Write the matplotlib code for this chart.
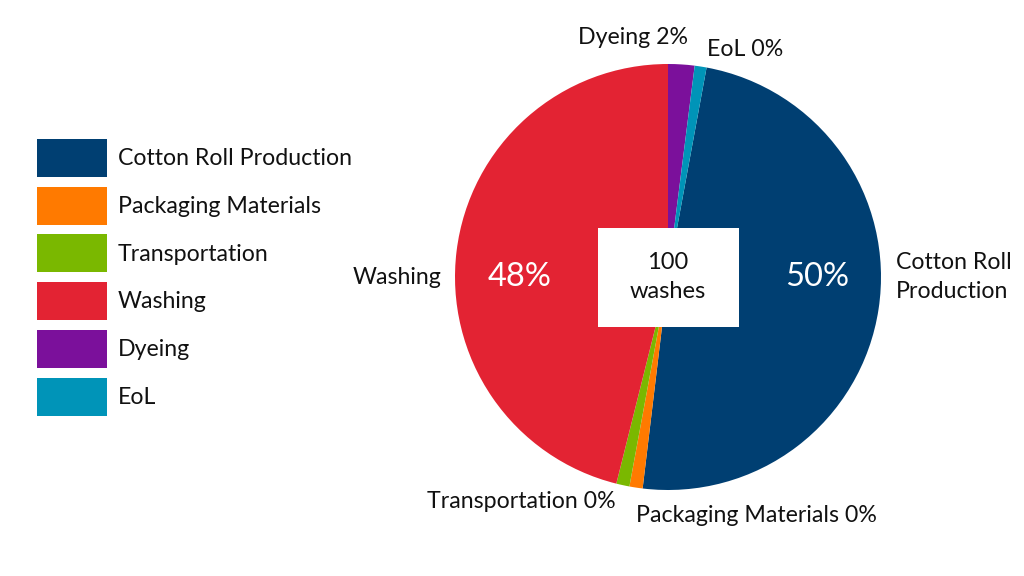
"""Pie: impact breakdown per 100 washes."""
import matplotlib
matplotlib.use("Agg")
import matplotlib.pyplot as plt
from matplotlib.patches import Patch

# ------------------------------------------------------------------------------
# Data (shares in %)
# ------------------------------------------------------------------------------
stages = ["Cotton Roll Production", "Packaging Materials", "Transportation",
          "Washing", "Dyeing", "EoL"]
shares = [49.0, 1.0, 1.0, 46.1, 2.0, 0.9]
shown_pct = ["50%", "0%", "0%", "48%", "2%", "0%"]
colors = ["#003f72", "#ff7a00", "#7ab800", "#e32333", "#7b109b", "#0094b8"]

plt.rcParams["font.family"] = ["Lato", "DejaVu Sans"]

fig = plt.figure(figsize=(10.24, 5.76), dpi=100)
ax = fig.add_axes([0, 0, 1, 1])

H = 576
cx, cy, r = 668, H - 277, 213

# Dyeing and EoL sit just right of 12 o'clock, so Cotton starts after them
total = sum(shares)
start = 90 - (shares[4] + shares[5]) / total * 360
ax.pie(shares, colors=colors, startangle=start, counterclock=False,
       center=(cx, cy), radius=r, frame=True,
       wedgeprops=dict(linewidth=0))
ax.set_xlim(0, 1024)
ax.set_ylim(0, 576)
ax.set_aspect("equal")
ax.axis("off")

# centre box
ax.add_patch(plt.Rectangle((598, H - 327), 141, 99, facecolor="white",
                           edgecolor="none", zorder=2))
ax.text(cx, cy, "100\nwashes", ha="center", va="center", fontsize=17,
        linespacing=1.45, color="#111111", zorder=3)

# big white percentages inside the two large slices
ax.text(817, cy, shown_pct[0], ha="center", va="center", fontsize=23.5,
        color="white")
ax.text(520, cy, shown_pct[3], ha="center", va="center", fontsize=23.5,
        color="white")

# outside labels
lab = dict(fontsize=16.7, color="#111111")
ax.text(896, cy, "Cotton Roll\nProduction", ha="left", va="center",
        linespacing=1.45, **lab)
ax.text(442, cy, stages[3], ha="right", va="center", **lab)
ax.text(633, H - 38, f"{stages[4]} {shown_pct[4]}", ha="center", va="center", **lab)
ax.text(745, H - 50, f"{stages[5]} {shown_pct[5]}", ha="center", va="center", **lab)
ax.text(521, H - 502, f"{stages[2]} {shown_pct[2]}", ha="center", va="center", **lab)
ax.text(756, H - 516, f"{stages[1]} {shown_pct[1]}", ha="center", va="center", **lab)

# legend on the left
handles = [Patch(facecolor=c, edgecolor="none") for c in colors]
fs = 16.7
px = fs * 100 / 72
# legend box height = px*(0.65*h + 0.245) -> want 38 px
hh = (38 / px - 0.245) / 0.65
fig.legend(handles, stages, loc="upper left",
           bbox_to_anchor=(37 / 1024, 1 - 139 / 576), frameon=False,
           fontsize=fs, handlelength=70 / px, handleheight=hh,
           labelspacing=9.7 / px, handletextpad=11 / px,
           borderpad=0, borderaxespad=0, labelcolor="#111111")

fig.savefig("out.png", dpi=100)
